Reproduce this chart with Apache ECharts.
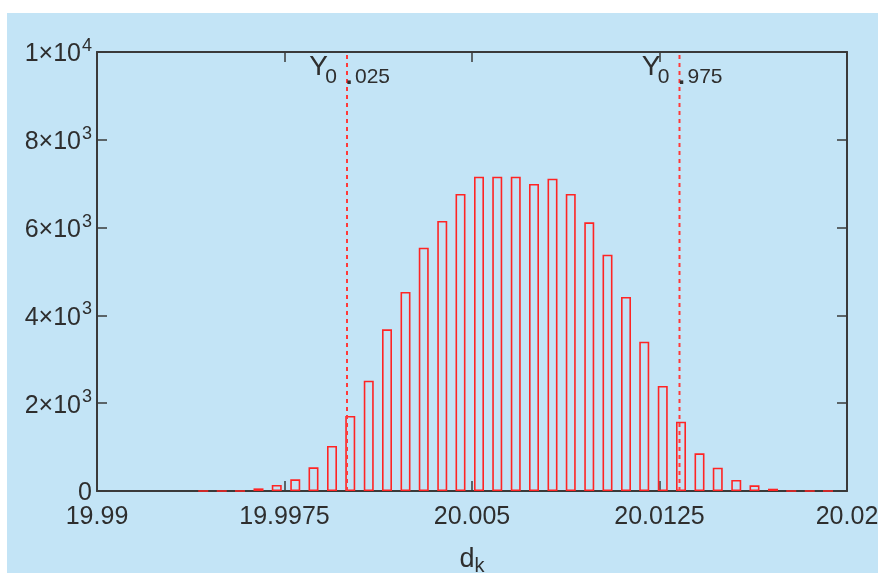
<!DOCTYPE html>
<html><head><meta charset="utf-8">
<script src="https://cdn.jsdelivr.net/npm/echarts@6/dist/echarts.min.js"></script>
<style>html,body{margin:0;padding:0;background:#fff}#c{width:878px;height:573px}</style>
</head><body><div id="c"></div>
<script>
// bin centres of the histogram (d_k)
const binCenters = [19.99425, 19.99499, 19.99572, 19.99646, 19.99719, 19.99793, 19.99866, 19.99940,
  20.00013, 20.00087, 20.00160, 20.00234, 20.00307, 20.00381, 20.00454, 20.00528, 20.00601,
  20.00675, 20.00748, 20.00822, 20.00895, 20.00969, 20.01042, 20.01116, 20.01189, 20.01263,
  20.01336, 20.01410, 20.01483, 20.01557, 20.01630, 20.01704, 20.01777, 20.01851, 20.01924];
// counts per bin
const counts = [0, 0, 0, 60, 137, 266, 540, 1025, 1708, 2512, 3683, 4533, 5542, 6150, 6765,
  7160, 7160, 7160, 6993, 7114, 6765, 6120, 5383, 4419, 3401, 2392, 1579, 859, 531, 251, 130, 52, 0, 0, 0];
const xTicks = [19.99, 19.9975, 20.005, 20.0125, 20.02];
const xInnerTicks = [19.9975, 20.005, 20.0125];
const yTicks = [0, 2000, 4000, 6000, 8000, 10000];
const quantileX = [20.0000, 20.0133];
const quantileLabels = ['0.025', '0.975'];

const FONT = 'Liberation Sans, Arial, sans-serif';
const AX = '#3a3a3a';
const TXT = '#2e2e2e';

const chart = echarts.init(document.getElementById('c'));

function yFmt(v) {
  if (v === 0) return '{m|0}';
  const e = Math.floor(Math.log10(v) + 1e-9);
  const m = Math.round(v / Math.pow(10, e));
  return '{m|' + m + '×10}{e|' + e + '}';
}

const xRange = {min: xTicks[0], max: xTicks[xTicks.length - 1]};
const yRange = {min: yTicks[0], max: yTicks[yTicks.length - 1]};

const quantileSeries = quantileX.map(qx => ({
  type: 'line', xAxisIndex: 0, yAxisIndex: 0, silent: true,
  data: [[qx, yRange.min], [qx, yRange.max]],
  symbol: 'none', z: 4,
  lineStyle: {color: '#ff3a3a', type: [4, 4], width: 2}
}));

chart.setOption({
  animation: false,
  backgroundColor: 'transparent',
  grid: {left: 97, right: 31, top: 52, bottom: 82, containLabel: false, outerBoundsMode: 'none'},
  xAxis: [{
    type: 'value', position: 'bottom', min: xRange.min, max: xRange.max,
    splitLine: {show: false},
    axisLine: {show: true, onZero: false, lineStyle: {color: AX, width: 2}},
    axisTick: {show: true, inside: true, length: 10, customValues: xInnerTicks, lineStyle: {color: AX, width: 1.5}},
    axisLabel: {show: true, customValues: xTicks, margin: 14, color: TXT, fontSize: 25, fontFamily: FONT,
      formatter: v => String(+v.toFixed(4))},
    name: '{d|d}{k|k}', nameLocation: 'middle', nameGap: 55,
    nameTextStyle: {rich: {
      d: {fontSize: 27, color: TXT, fontFamily: FONT, verticalAlign: 'top', lineHeight: 30},
      k: {fontSize: 20, color: TXT, fontFamily: FONT, verticalAlign: 'bottom', lineHeight: 30}
    }}
  }, {
    type: 'value', position: 'top', min: xRange.min, max: xRange.max,
    splitLine: {show: false},
    axisLine: {show: true, onZero: false, lineStyle: {color: AX, width: 2}},
    axisTick: {show: true, inside: true, length: 10, customValues: xInnerTicks, lineStyle: {color: AX, width: 1.5}},
    axisLabel: {show: false}
  }],
  yAxis: [{
    type: 'value', position: 'left', min: yRange.min, max: yRange.max, interval: 2000,
    splitLine: {show: false},
    axisLine: {show: true, onZero: false, lineStyle: {color: AX, width: 2}},
    axisTick: {show: true, inside: true, length: 10, lineStyle: {color: AX, width: 1.5}},
    axisLabel: {show: true, margin: 5, formatter: yFmt, rich: {
      m: {fontSize: 25, color: TXT, fontFamily: FONT, verticalAlign: 'bottom', lineHeight: 30},
      e: {fontSize: 18, color: TXT, fontFamily: FONT, verticalAlign: 'top', lineHeight: 30, padding: [0, 0, 0, 1]}
    }}
  }, {
    type: 'value', position: 'right', min: yRange.min, max: yRange.max, interval: 2000,
    splitLine: {show: false},
    axisLine: {show: true, onZero: false, lineStyle: {color: AX, width: 2}},
    axisTick: {show: true, inside: true, length: 10, lineStyle: {color: AX, width: 1.5}},
    axisLabel: {show: false}
  }],
  series: [{
    type: 'bar', xAxisIndex: 0, yAxisIndex: 0,
    data: binCenters.map((x, i) => [x, counts[i]]),
    barWidth: 10,
    itemStyle: {color: 'rgba(0,0,0,0)', borderColor: '#ff2424', borderWidth: 1.6},
    z: 3
  }].concat(quantileSeries)
});

// quantile labels placed at the dashed lines
const g = [{
  type: 'rect', silent: true, z: -100,
  shape: {x: 7, y: 13, width: 871, height: 560},
  style: {fill: '#c3e4f6'}
}];
quantileX.forEach((qx, i) => {
  const px = chart.convertToPixel({xAxisIndex: 0}, qx);
  const lab = quantileLabels[i];
  const dot = lab.indexOf('.');
  const head = lab.slice(0, dot);
  const tail = lab.slice(dot + 1);
  g.push({type: 'text', silent: true, z: 10, style: {text: 'Y', x: px - 19, y: 67, align: 'right', verticalAlign: 'middle',
    fontSize: 28, fontFamily: FONT, fill: TXT}});
  g.push({type: 'text', silent: true, z: 10, style: {text: head, x: px - 10, y: 77, align: 'right', verticalAlign: 'middle',
    fontSize: 21, fontFamily: FONT, fill: TXT}});
  g.push({type: 'text', silent: true, z: 10, style: {text: '.', x: px + 2, y: 77, align: 'center', verticalAlign: 'middle',
    fontSize: 24, fontWeight: 'bold', fontFamily: FONT, fill: TXT}});
  g.push({type: 'text', silent: true, z: 10, style: {text: tail, x: px + 8, y: 77, align: 'left', verticalAlign: 'middle',
    fontSize: 21, fontFamily: FONT, fill: TXT}});
});
chart.setOption({graphic: g});
</script></body></html>
